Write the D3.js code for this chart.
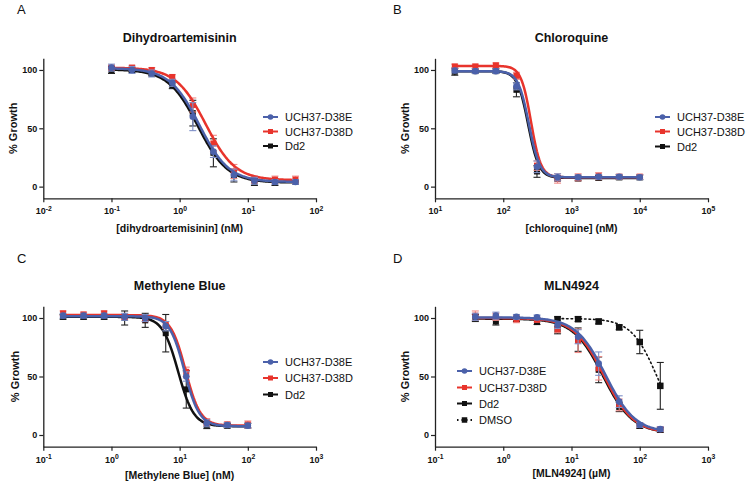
<!DOCTYPE html>
<html><head><meta charset="utf-8">
<script src="https://cdn.jsdelivr.net/npm/d3@7/dist/d3.min.js"></script>
<style>body{margin:0;background:#fff}svg{display:block}</style>
</head><body>
<svg id="c" width="750" height="486"></svg>
<script>
// ---------------- DATA ----------------
const seriesNames = ["UCH37-D38E", "UCH37-D38D", "Dd2"];
const extraSeriesName = "DMSO";
const panelLetters = ["A", "B", "C", "D"];
const panelTitles = ["Dihydroartemisinin", "Chloroquine", "Methylene Blue", "MLN4924"];
const xAxisLabels = ["[dihydroartemisinin] (nM)", "[chloroquine] (nM)", "[Methylene Blue] (nM)", "[MLN4924] (\u00b5M)"];
const yAxisLabel = "% Growth";
const yTicks = [0, 50, 100];
const xTickExpA = [-2, -1, 0, 1, 2];
const xTickExpB = [1, 2, 3, 4, 5];
const xTickExpC = [-1, 0, 1, 2, 3];
const xTickExpD = [-1, 0, 1, 2, 3];

// Panel A – dihydroartemisinin
const concA = [0.1, 0.2, 0.39, 0.78, 1.56, 3.125, 6.25, 12.5, 25, 50];
const aE   = [102, 100, 97, 89, 60, 30, 10, 5, 4, 4];
const aEsd = [3, 3, 3, 3, 12, 5, 5, 3, 2, 2];
const aD   = [102, 102, 100, 94, 70, 37, 13, 6, 6, 6];
const aDsd = [2, 2, 2, 2, 6, 7, 6, 3, 3, 3];
const aK   = [100, 100, 97, 87, 63, 29, 9, 4, 4, 4];
const aKsd = [3, 2, 2, 3, 11, 12, 5, 3, 3, 2];
// fit parameters [top, bottom, EC50, Hill]
const fitAE = [101.5, 4, 1.95, 2.0];
const fitAD = [102, 5.5, 2.4, 2.0];
const fitAK = [100.5, 3.5, 1.85, 2.0];

// Panel B – chloroquine
const concB = [19.5, 39, 78, 156, 312, 625, 1250, 2500, 5000, 10000];
const bE   = [99.5, 99, 99, 86, 17, 8, 8, 8.5, 8.5, 8];
const bEsd = [2, 2, 2, 3, 5, 3, 2, 2, 2, 2];
const bD   = [103, 103, 104, 95, 18, 7, 8, 9, 8.5, 8.5];
const bDsd = [2, 2, 2, 3, 4, 4, 3, 3, 2, 2];
const bK   = [98.5, 99, 99, 83, 13, 7, 7, 7.5, 8, 8];
const bKsd = [3, 2, 2, 6, 5, 2, 2, 2, 2, 2];
const fitBE = [99, 8, 238, 5.5];
const fitBD = [103.5, 8, 255, 6];
const fitBK = [99, 7.5, 232, 5.5];

// Panel C – methylene blue
const concC = [0.195, 0.39, 0.78, 1.56, 3.125, 6.25, 12.5, 25, 50, 100];
const cE   = [102, 102, 102, 101, 100, 93, 50, 10, 8.5, 8];
const cEsd = [2, 2, 2, 3, 3, 4, 4, 3, 2, 2];
const cD   = [104, 103, 104, 101, 99, 94, 54, 11, 9, 9];
const cDsd = [2, 2, 2, 2, 2, 3, 4, 3, 2, 3];
const cK   = [101, 101, 101, 100, 98, 87, 39, 8.5, 8, 8];
const cKsd = [2, 2, 2, 6, 6, 16, 16, 3, 2, 2];
const fitCE = [101.5, 7.5, 11.8, 4];
const fitCD = [102.5, 8, 12.2, 4];
const fitCK = [101, 7.5, 9.5, 3.8];

// Panel D – MLN4924
const concD = [0.39, 0.78, 1.56, 3.125, 6.25, 12.5, 25, 50, 100, 200];
const dE   = [101, 102, 101, 100.5, 94, 84, 61, 28.5, 8.5, 5];
const dEsd = [3, 3, 2, 2, 3, 6, 10, 5, 2, 2];
const dD   = [102, 101, 99, 98.5, 90.5, 80.5, 57, 25.7, 8.5, 5];
const dDsd = [4, 3, 3, 2, 3, 10, 10, 5, 2, 2];
const dK   = [100, 97, 99, 96.5, 89.5, 81.5, 55.7, 24, 7.7, 4.3];
const dKsd = [3, 3, 2, 2, 3, 10, 11, 4, 2, 2];
const concDmso = [6.25, 12.5, 25, 50, 100, 200];
const dmso     = [99, 99, 97, 92, 79.5, 42];
const dmsoSd   = [2, 2, 2, 2, 10, 20];
const fitDE = [100.5, 2, 31.5, 2];
const fitDD = [100, 1.5, 30, 2];
const fitDK = [99.5, 1.5, 29, 2];
const fitDmso = [99.5, 0, 180, 2.3];

// ---------------- STYLE / LAYOUT ----------------
const FONT = "'Liberation Sans', Arial, Helvetica, sans-serif";
const colE = "#4b61aa", colD = "#e8342c", colK = "#111111";
const errE = "#7f90c8", errD = "#f08a86", errK = "#222222";

const styles = {
  E: {color: colE, err: errE, shape: "circle"},
  D: {color: colD, err: errD, shape: "square"},
  K: {color: colK, err: errK, shape: "square"},
  M: {color: colK, err: errK, shape: "square", dash: "1.5,3"}
};

const panels = [
  {letter: panelLetters[0], title: panelTitles[0], xlabel: xAxisLabels[0], exps: xTickExpA,
   x0: 43.3, x1: 316, yTop: 58.3, yBot: 198.3, titleY: 42, xlabY: 232, ylabX: 13, letX: 17, letY: 14,
   legX: 263, legY: [117, 131.5, 146],
   series: [
     {k: "K", conc: concA, v: aK, sd: aKsd, fit: fitAK},
     {k: "D", conc: concA, v: aD, sd: aDsd, fit: fitAD},
     {k: "E", conc: concA, v: aE, sd: aEsd, fit: fitAE}]},
  {letter: panelLetters[1], title: panelTitles[1], xlabel: xAxisLabels[1], exps: xTickExpB,
   x0: 435, x1: 708, yTop: 58.3, yBot: 198.3, titleY: 42, xlabY: 232, ylabX: 405, letX: 393, letY: 14,
   legX: 655, legY: [117, 131.5, 146.5],
   series: [
     {k: "K", conc: concB, v: bK, sd: bKsd, fit: fitBK},
     {k: "D", conc: concB, v: bD, sd: bDsd, fit: fitBD},
     {k: "E", conc: concB, v: bE, sd: bEsd, fit: fitBE}]},
  {letter: panelLetters[2], title: panelTitles[2], xlabel: xAxisLabels[2], exps: xTickExpC,
   x0: 43.3, x1: 316, yTop: 306.3, yBot: 446.7, titleY: 290, xlabY: 478.5, ylabX: 15, letX: 17, letY: 263,
   legX: 263, legY: [362, 378, 394.5],
   series: [
     {k: "K", conc: concC, v: cK, sd: cKsd, fit: fitCK},
     {k: "D", conc: concC, v: cD, sd: cDsd, fit: fitCD},
     {k: "E", conc: concC, v: cE, sd: cEsd, fit: fitCE}]},
  {letter: panelLetters[3], title: panelTitles[3], xlabel: xAxisLabels[3], exps: xTickExpD,
   x0: 435, x1: 708, yTop: 306.3, yBot: 446.7, titleY: 290, xlabY: 477, ylabX: 405, letX: 393, letY: 263,
   legX: 457, legY: [371, 387.5, 403.5, 420], extra: true,
   series: [
     {k: "M", conc: concDmso, v: dmso, sd: dmsoSd, fit: fitDmso},
     {k: "K", conc: concD, v: dK, sd: dKsd, fit: fitDK},
     {k: "D", conc: concD, v: dD, sd: dDsd, fit: fitDD},
     {k: "E", conc: concD, v: dE, sd: dEsd, fit: fitDE}]}
];

const svg = d3.select("#c").style("font-family", FONT);
svg.append("rect").attr("width", 750).attr("height", 486).attr("fill", "#fff");

function logistic(p, c) { return p[1] + (p[0] - p[1]) / (1 + Math.pow(c / p[2], p[3])); }

function marker(g, shape, cx, cy, color, size) {
  if (shape === "circle") {
    g.append("circle").attr("cx", cx).attr("cy", cy).attr("r", size / 2 + 0.3).attr("fill", color);
  } else {
    g.append("rect").attr("x", cx - size / 2).attr("y", cy - size / 2)
      .attr("width", size).attr("height", size).attr("fill", color);
  }
}

panels.forEach(P => {
  const g = svg.append("g");
  const x = d3.scaleLog().domain([Math.pow(10, P.exps[0]), Math.pow(10, P.exps[P.exps.length - 1])]).range([P.x0, P.x1]);
  const y = d3.scaleLinear().domain([-10, 110]).range([P.yBot, P.yTop]);

  // letter + title
  g.append("text").attr("x", P.letX).attr("y", P.letY).attr("font-size", 13).attr("fill", "#111").text(P.letter);
  g.append("text").attr("x", (P.x0 + P.x1) / 2).attr("y", P.titleY).attr("text-anchor", "middle")
    .attr("font-size", 12.5).attr("font-weight", "bold").attr("fill", "#111").text(P.title);

  // axes
  const xa = g.append("g").attr("transform", `translate(0,${P.yBot})`)
    .call(d3.axisBottom(x).tickValues(P.exps.map(e => Math.pow(10, e))).tickFormat(() => "").tickSize(4).tickSizeOuter(0));
  xa.selectAll(".tick text").remove();
  xa.selectAll(".tick").each(function (d) {
    const e = Math.round(Math.log10(d));
    const t = d3.select(this).append("text").attr("y", 16).attr("text-anchor", "middle")
      .attr("font-size", 9).attr("font-weight", "bold").attr("fill", "#111").attr("font-family", FONT);
    t.append("tspan").text("10");
    t.append("tspan").attr("dy", -3.5).attr("font-size", 6.8).text(String(e));
  });
  const ya = g.append("g").attr("transform", `translate(${P.x0},0)`)
    .call(d3.axisLeft(y).tickValues(yTicks).tickSize(4).tickSizeOuter(0).tickPadding(2));
  ya.selectAll(".tick text").attr("font-size", 9).attr("font-weight", "bold").attr("fill", "#111").attr("font-family", FONT);
  [xa, ya].forEach(a => {
    a.select(".domain").attr("stroke", "#222").attr("stroke-width", 1.3);
    a.selectAll(".tick line").attr("stroke", "#222").attr("stroke-width", 1.2);
  });

  // axis labels
  g.append("text").attr("x", (P.x0 + P.x1) / 2).attr("y", P.xlabY).attr("text-anchor", "middle")
    .attr("font-size", 10.5).attr("font-weight", "bold").attr("fill", "#111").text(P.xlabel);
  g.append("text").attr("transform", `translate(${P.ylabX + 4},${(y(0) + y(100)) / 2}) rotate(-90)`)
    .attr("text-anchor", "middle").attr("font-size", 11).attr("font-weight", "bold").attr("fill", "#111").text(yAxisLabel);

  // series
  P.series.forEach(S => {
    const st = styles[S.k];
    const sg = g.append("g");
    // error bars
    S.conc.forEach((c, i) => {
      const cx = x(c), y1 = y(S.v[i] - S.sd[i]), y2 = y(S.v[i] + S.sd[i]);
      sg.append("line").attr("x1", cx).attr("x2", cx).attr("y1", y1).attr("y2", y2).attr("stroke", st.err).attr("stroke-width", 1.1);
      [y1, y2].forEach(yy => sg.append("line").attr("x1", cx - 3.5).attr("x2", cx + 3.5).attr("y1", yy).attr("y2", yy)
        .attr("stroke", st.err).attr("stroke-width", 1.1));
    });
    // fitted curve
    const lo = Math.log10(S.conc[0]), hi = Math.log10(S.conc[S.conc.length - 1]);
    const xs = d3.range(0, 161).map(i => Math.pow(10, lo + (hi - lo) * i / 160));
    sg.append("path").datum(xs)
      .attr("d", d3.line().x(c => x(c)).y(c => y(logistic(S.fit, c))).curve(d3.curveLinear))
      .attr("fill", "none").attr("stroke", st.color).attr("stroke-width", S.k === "M" ? 1.6 : 2.5)
      .attr("stroke-dasharray", st.dash || null).attr("stroke-linecap", "round");
    // points
    S.conc.forEach((c, i) => marker(sg, st.shape, x(c), y(S.v[i]), st.color, S.k === "M" ? 6.5 : 6));
  });

  // legend
  const legItems = seriesNames.map((n, i) => ({name: n, k: ["E", "D", "K"][i]}));
  if (P.extra) legItems.push({name: extraSeriesName, k: "M"});
  legItems.forEach((it, i) => {
    const st = styles[it.k];
    const ly = P.legY[i];
    const lg = g.append("g");
    lg.append("line").attr("x1", P.legX).attr("x2", P.legX + 15).attr("y1", ly).attr("y2", ly)
      .attr("stroke", st.color).attr("stroke-width", 2).attr("stroke-dasharray", st.dash || null);
    marker(lg, st.shape, P.legX + 7.5, ly, st.color, it.k === "M" ? 5.5 : 5);
    lg.append("text").attr("x", P.legX + 22).attr("y", ly + 4).attr("font-size", 11).attr("fill", "#111").text(it.name);
  });
});
</script>
</body></html>
